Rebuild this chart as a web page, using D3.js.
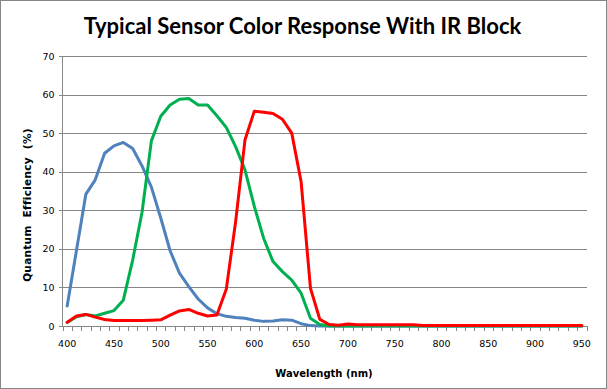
<!DOCTYPE html>
<html>
<head>
<meta charset="utf-8">
<script src="https://cdn.jsdelivr.net/npm/d3@7"></script>
<style>
  html, body { margin: 0; padding: 0; background: #fff; }
  svg { display: block; }
</style>
</head>
<body>
<svg id="chart" width="607" height="389"></svg>
<script>
// wavelengths (nm), one per category
const wavelengths = [400,410,420,430,440,450,460,470,480,490,
                     500,510,520,530,540,550,560,570,580,590,
                     600,610,620,630,640,650,660,670,680,690,
                     700,710,720,730,740,750,760,770,780,790,
                     800,810,820,830,840,850,860,870,880,890,
                     900,910,920,930,940,950];

const blueQE = [5.2,19.7,34.2,37.9,44.8,46.7,47.6,46.0,41.5,36.0,
                28.0,19.5,13.7,10.2,7.0,4.7,3.2,2.5,2.2,2.0,
                1.5,1.2,1.3,1.6,1.5,0.6,0.1,0,0,0,
                0,0,0,0,0,0,0,0,0,0,
                0,0,0,0,0,0,0,0,0,0,
                0,0,0,0,0,0];

const greenQE = [0.9,2.4,3.0,2.6,3.3,4.0,6.7,17.1,29.5,48.0,
                 54.4,57.3,58.8,59.0,57.3,57.3,54.5,51.5,46.5,40.5,
                 31.0,22.7,16.7,14.1,11.9,8.5,2.0,0.4,0,0,
                 0,0,0,0,0,0,0,0,0,0,
                 0,0,0,0,0,0,0,0,0,0,
                 0,0,0,0,0,0];

const redQE = [1.0,2.6,3.0,2.3,1.7,1.4,1.4,1.4,1.4,1.5,
               1.6,2.8,3.9,4.3,3.3,2.6,2.85,9.5,27.0,48.2,
               55.7,55.4,55.1,53.6,50.0,37.4,9.8,1.7,0.4,0.2,
               0.5,0.3,0.3,0.3,0.3,0.3,0.3,0.3,0.1,0.1,
               0.1,0.1,0.1,0.1,0.1,0.1,0.1,0.1,0.1,0.1,
               0.1,0.1,0.1,0.1,0.1,0.1];

const yTicks = [0,10,20,30,40,50,60,70];
const xLabels = [400,450,500,550,600,650,700,750,800,850,900,950];

const series = [
  { name: "Blue",  values: blueQE,  color: "#4F81BD" },
  { name: "Green", values: greenQE, color: "#00B050" },
  { name: "Red",   values: redQE,   color: "#FF0000" }
];

const svg = d3.select("#chart");
const W = 607, H = 389;
const plot = { left: 62.5, right: 586.5, top: 56, bottom: 326 };
const gridColor = "#868686";
const tickFont = "'DejaVu Sans', Verdana, sans-serif";

// chart border
svg.append("rect")
  .attr("x", 0.5).attr("y", 0.5)
  .attr("width", W - 1).attr("height", H - 1)
  .attr("fill", "#fff")
  .attr("stroke", gridColor);

const x = d3.scaleBand()
  .domain(wavelengths)
  .range([plot.left, plot.right]);
const cx = w => x(w) + x.bandwidth() / 2;

const y = d3.scaleLinear()
  .domain([0, 70])
  .range([plot.bottom, plot.top]);

// horizontal gridlines + y ticks
svg.append("g")
  .attr("transform", `translate(${plot.left},0)`)
  .call(d3.axisLeft(y).tickValues(yTicks).tickSize(-(plot.right - plot.left)).tickSizeOuter(0).tickPadding(8))
  .call(g => g.select(".domain").remove())
  .call(g => g.selectAll(".tick line")
    .attr("stroke", gridColor)
    .attr("x1", -4)
    .attr("shape-rendering", "crispEdges"))
  .call(g => g.selectAll(".tick text")
    .attr("fill", "#000")
    .style("font-family", tickFont)
    .style("font-size", "9.5px"));

// y axis line
svg.append("line")
  .attr("x1", plot.left).attr("x2", plot.left)
  .attr("y1", plot.top).attr("y2", plot.bottom)
  .attr("stroke", gridColor)
  .attr("shape-rendering", "crispEdges");

// x axis: tick marks on category boundaries
const boundaries = wavelengths.map(w => x(w)).concat([plot.right]);
const xg = svg.append("g");
xg.append("line")
  .attr("x1", plot.left).attr("x2", plot.right)
  .attr("y1", plot.bottom).attr("y2", plot.bottom)
  .attr("stroke", gridColor)
  .attr("shape-rendering", "crispEdges");
xg.selectAll("line.tk")
  .data(boundaries)
  .enter().append("line")
  .attr("class", "tk")
  .attr("x1", d => Math.round(d) + 0.5).attr("x2", d => Math.round(d) + 0.5)
  .attr("y1", plot.bottom).attr("y2", plot.bottom + 5)
  .attr("stroke", gridColor);
xg.selectAll("text")
  .data(xLabels)
  .enter().append("text")
  .attr("x", d => cx(d))
  .attr("y", plot.bottom + 21)
  .attr("text-anchor", "middle")
  .style("font-family", tickFont)
  .style("font-size", "9.5px")
  .text(d => d);

// lines
const line = d3.line()
  .x((d, i) => cx(wavelengths[i]))
  .y(d => y(d));

svg.append("g")
  .selectAll("path")
  .data(series)
  .enter().append("path")
  .attr("d", d => line(d.values))
  .attr("fill", "none")
  .attr("stroke", d => d.color)
  .attr("stroke-width", 3)
  .attr("stroke-linejoin", "round")
  .attr("stroke-linecap", "round");

// title
svg.append("text")
  .attr("x", 302.5).attr("y", 34)
  .attr("text-anchor", "middle")
  .style("font-family", "Lato, 'Open Sans', sans-serif")
  .style("font-weight", "700")
  .style("font-size", "22px")
  .text("Typical Sensor Color Response With IR Block");

// axis titles
svg.append("text")
  .attr("x", 324).attr("y", 377)
  .attr("text-anchor", "middle")
  .style("font-family", tickFont)
  .style("font-weight", "700")
  .style("font-size", "10px")
  .text("Wavelength (nm)");

svg.append("text")
  .attr("transform", "translate(31,205) rotate(-90)")
  .attr("text-anchor", "middle")
  .style("font-family", tickFont)
  .style("font-weight", "700")
  .style("font-size", "10.5px")
  .style("white-space", "pre")
  .style("letter-spacing", "0.3px")
  .text("Quantum  Efficiency  (%)");
</script>
</body>
</html>
